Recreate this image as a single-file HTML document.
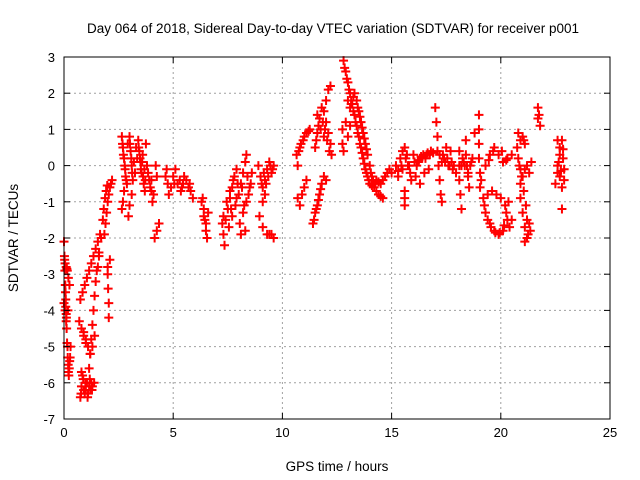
<!DOCTYPE html>
<html><head><meta charset="utf-8"><style>
body{margin:0;background:#fff}
svg{display:block;font-family:"Liberation Sans",sans-serif}
</style></head><body>
<svg id="chart" width="640" height="480">
<text x="333" y="33" text-anchor="middle" font-size="13.5">Day 064 of 2018, Sidereal Day-to-day VTEC variation (SDTVAR) for receiver p001</text>
<text transform="translate(18,238) rotate(-90)" text-anchor="middle" font-size="13.5">SDTVAR / TECUs</text>
<text x="337" y="471" text-anchor="middle" font-size="13.5">GPS time / hours</text>
<g id="grid"></g><g id="marks"></g><g id="axes"></g>
</svg>
<script>
const xTicks=[0,5,10,15,20,25];
const yTicks=[3,2,1,0,-1,-2,-3,-4,-5,-6,-7];
const T=[0.00,0.02,0.04,0.06,0.08,0.10,0.12,0.14,0.17,0.20,0.24,0.28,0.05,0.10,0.15,0.20,0.25,0.00,0.05,0.10,0.18,0.22,0.30,
0.75,0.8,0.85,0.9,0.95,1.0,1.1,1.2,1.3,0.8,
0.7,0.8,0.9,1.0,1.1,1.2,1.3,1.4,
0.75,0.85,0.95,1.05,1.15,1.25,1.35,1.45,1.55,1.65,
1.15,1.2,1.25,1.3,1.35,1.4,1.45,1.55,1.6,
2.0,2.02,2.05,2.05,2.0,2.1,
1.85,1.9,1.95,2.0,2.05,2.1,2.15,2.2,
2.65,2.7,2.75,2.8,2.85,2.75,2.7,2.65,3.0,3.05,3.1,3.15,3.1,3.0,2.95,3.4,3.45,3.5,3.55,3.65,3.7,3.6,3.8,3.9,4.0,4.05,4.1,3.75,4.2,4.25,
4.15,4.25,4.35,
4.7,4.75,4.8,5.0,5.2,5.4,5.6,5.8,5.9,5.1,5.5,
6.35,6.4,6.45,6.5,6.55,6.3,6.6,
7.25,7.3,7.35,7.4,7.5,7.6,7.7,7.8,7.9,7.55,7.7,7.85,8.0,8.1,8.2,8.3,8.35,8.05,8.2,8.35,8.45,8.55,8.6,8.1,8.3,
8.9,9.0,9.1,9.2,9.3,9.4,9.5,9.1,8.95,9.1,9.3,9.5,9.6,9.6,9.2,
10.65,10.8,10.95,11.1,11.25,10.7,10.8,10.9,11.0,11.1,10.7,
11.5,11.6,11.7,11.8,11.9,12.0,12.1,12.2,12.25,11.6,11.75,11.9,12.0,12.1,12.2,11.4,11.5,11.6,11.7,11.8,11.9,12.0,
12.75,12.75,12.8,
12.8,12.9,13.0,13.1,13.2,13.3,13.4,13.5,13.6,13.7,13.8,13.9,14.0,14.2,14.4,14.6,
13.0,13.1,13.3,13.4,13.5,13.6,13.7,13.8,13.9,14.0,14.1,14.3,14.5,14.7,14.9,15.0,
12.9,13.0,13.1,
15.6,15.6,15.6,
15.2,15.3,15.4,15.5,15.6,15.7,15.8,15.9,15.5,
16.0,16.2,16.4,16.6,16.8,16.1,16.3,16.5,16.7,
17.0,17.05,17.1,17.1,17.15,17.2,17.25,17.3,17.2,17.4,17.6,17.8,17.5,17.7,
18.1,18.1,18.1,18.15,18.2,18.4,18.45,18.5,18.55,18.3,18.6,18.7,18.4,
19.0,19.0,19.0,19.0,19.05,19.05,18.8,
19.2,19.3,19.5,19.7,19.9,20.1,20.3,20.2,20.0,19.8,19.6,19.4,20.4,20.5,
19.3,19.5,19.7,19.9,20.1,20.3,20.5,
20.75,20.8,20.9,20.9,20.9,21.0,21.1,21.2,21.1,21.3,21.0,21.2,21.3,21.4,20.8,20.9,21.0,21.1,
21.7,21.7,21.8,21.75,
22.6,22.7,22.8,22.7,22.8,22.85,22.9,22.9,22.6,22.8,22.5,22.6];
const V=[-2.1,-2.5,-2.9,-3.3,-3.7,-4.1,-4.5,-4.9,-5.3,-5.7,-5.6,-5.3,-2.7,-2.8,-2.9,-3.1,-3.3,-3.8,-4.0,-4.3,-4.0,-5.8,-5.0,
-6.4,-6.1,-5.8,-6.2,-6.3,-6.2,-6.3,-6.2,-6.1,-5.7,
-4.3,-4.5,-4.7,-4.8,-5.0,-5.2,-5.0,-4.7,
-3.7,-3.5,-3.3,-3.1,-2.9,-2.7,-2.5,-2.3,-2.1,-1.9,
-5.6,-5.2,-4.8,-4.4,-4.0,-3.6,-3.2,-2.8,-2.5,
-3.0,-3.4,-3.8,-4.2,-2.8,-2.6,
-1.9,-1.6,-1.3,-1.0,-0.8,-0.6,-0.5,-0.4,
0.8,0.5,0.2,-0.1,-0.4,-0.7,-1.0,-1.2,0.8,0.4,0.0,-0.4,-0.8,-1.1,-1.4,0.7,0.4,0.1,-0.2,-0.5,-0.7,0.3,0.0,-0.4,-0.7,-1.0,-0.8,0.6,0.0,-0.3,
-2.0,-1.8,-1.6,
-0.1,-0.5,-0.8,-0.3,-0.5,-0.6,-0.4,-0.7,-0.9,-0.1,-0.3,
-0.9,-1.2,-1.5,-1.8,-2.0,-1.0,-1.3,
-1.6,-1.9,-2.2,-1.5,-1.2,-0.9,-0.6,-0.3,-0.1,-1.7,-1.4,-1.1,-0.8,-0.5,-0.2,0.1,0.3,-1.6,-1.3,-1.0,-0.8,-0.5,-0.2,-1.9,-1.8,
0.0,-0.3,-0.6,-0.4,-0.1,0.1,-0.2,-1.0,-1.4,-1.7,-1.9,-1.9,-2.0,0.0,-0.8,
0.3,0.5,0.7,0.9,1.0,-0.9,-1.1,-0.8,-0.6,-0.4,0.0,
0.5,0.9,1.3,1.6,1.5,1.2,0.9,0.6,0.3,1.4,1.0,0.8,1.8,2.1,2.2,-1.6,-1.3,-1.1,-0.8,-0.5,-0.3,-0.4,
1.0,0.6,0.4,
2.9,2.6,2.3,2.0,1.7,1.4,1.1,0.8,0.5,0.2,-0.1,-0.3,-0.5,-0.6,-0.8,-0.9,
1.8,1.6,2.0,1.8,1.5,1.2,0.9,0.6,0.3,0.0,-0.3,-0.4,-0.5,-0.3,-0.1,-0.2,
1.2,0.8,1.1,
-0.7,-0.9,-1.1,
0.0,-0.3,0.2,-0.1,0.5,0.3,0.0,-0.4,0.4,
0.3,0.1,0.2,0.3,0.4,-0.3,-0.5,-0.2,-0.1,
1.6,1.2,0.8,0.4,0.0,-0.4,-0.8,-1.0,0.3,0.2,0.0,-0.1,0.5,0.4,
0.4,0.0,-0.4,-0.8,-1.2,0.3,0.0,-0.3,-0.6,0.1,0.0,0.2,0.7,
1.4,1.0,0.6,0.2,-0.2,-0.6,0.9,
-0.9,-1.3,-1.6,-1.8,-1.9,-1.8,-1.5,-1.1,-0.9,-0.8,-0.7,-0.8,-1.7,-1.5,
0.0,0.3,0.5,0.3,0.1,0.2,0.3,
0.5,0.2,-0.1,-0.5,-0.9,-1.3,-1.7,-2.0,-2.1,-1.6,-0.3,0.0,-0.2,0.1,0.9,0.7,0.8,0.6,
1.6,1.3,1.1,1.4,
0.0,-0.3,-0.6,0.3,0.7,0.2,-0.1,-0.4,0.7,-1.2,-0.5,-0.2];
const T2=[0.03,0.07,0.11,0.16,0.19,0.13,0.08,0.26,0.92,1.05,1.15,1.25,0.78,0.88,0.98,1.08,1.18,1.28,1.38,0.9,1.0,1.5,1.6,1.7,1.78,1.82,1.88,1.93,1.98,
2.68,2.72,2.78,2.82,2.88,2.92,3.02,3.08,3.12,3.2,3.25,3.3,3.35,3.42,3.48,3.52,3.58,3.62,3.68,3.72,3.85,3.95,4.0,
4.65,4.9,5.05,5.3,5.35,5.45,5.7,5.75,6.4,6.5,7.3,7.45,7.6,7.65,7.75,7.9,7.95,8.15,8.25,8.4,8.5,9.05,9.15,9.25,9.35,9.45,9.55,9.4,
10.75,10.85,11.0,11.2,11.55,11.65,11.85,11.95,12.05,12.15,11.45,11.55,11.65,11.75,
12.85,12.95,13.05,13.15,13.25,13.35,13.45,13.55,13.65,13.75,13.85,13.95,14.1,14.3,14.5,14.05,14.15,14.25,14.4,14.6,14.8,
13.15,13.25,13.45,13.55,13.65,13.75,13.85,
15.3,15.45,15.65,15.75,15.85,16.05,16.15,16.25,16.35,16.45,16.55,16.65,16.75,16.9,17.3,17.35,17.45,17.55,17.65,17.75,17.85,17.95,
18.2,18.25,18.35,18.5,18.65,19.1,19.25,19.4,19.55,19.75,19.95,20.15,20.25,20.35,19.45,19.65,20.05,20.25,
20.85,20.95,21.05,21.15,21.2,21.25,21.35,21.1,21.05,22.65,22.75,22.85,22.7];
const V2=[-2.6,-3.5,-4.2,-5.0,-5.5,-2.85,-3.9,-5.4,-6.2,-6.0,-6.1,-6.0,-6.3,-5.9,-6.0,-6.4,-5.9,-6.2,-6.0,-4.6,-4.9,-2.9,-2.4,-2.0,-1.5,-1.2,-0.9,-0.7,-0.55,
0.6,0.3,0.0,-0.3,-0.5,0.6,0.6,0.2,-0.2,0.1,-0.2,0.5,0.2,0.5,0.2,-0.1,0.1,-0.3,-0.1,-0.4,-0.2,-0.6,-0.4,
-0.3,-0.6,-0.5,-0.4,-0.7,-0.5,-0.6,-0.5,-1.4,-1.6,-1.4,-1.0,-0.7,-1.2,-0.4,-0.9,-0.5,-0.6,-1.1,-0.3,-0.6,-0.5,-0.2,-0.5,-0.3,0.0,-0.1,-1.9,
0.4,0.6,0.8,0.95,0.7,1.1,1.2,1.0,0.7,0.4,-1.5,-1.2,-0.95,-0.65,
2.7,2.4,2.1,1.8,1.5,1.2,0.9,0.6,0.35,0.05,-0.2,-0.4,-0.55,-0.7,-0.85,-0.2,-0.4,-0.5,-0.45,-0.4,-0.2,
1.7,1.9,1.6,1.35,1.05,0.75,0.45,
-0.15,0.0,0.2,0.0,-0.2,0.1,0.0,0.15,0.25,0.3,0.2,0.35,0.3,0.35,0.1,0.3,0.1,0.2,0.0,0.1,0.0,-0.2,
0.0,0.2,0.0,-0.2,0.1,-0.4,-1.1,-1.5,-1.7,-1.85,-1.85,-1.65,-1.3,-1.0,0.15,0.4,0.4,0.15,
0.0,-0.3,-0.7,-1.1,-1.5,-1.9,-1.8,-0.1,0.7,0.1,-0.15,0.45,0.5];
const NS='http://www.w3.org/2000/svg';
const L=64,R=610,TOP=57,B=419;
const xs=t=>L+(t-0)/25*(R-L);
const ys=v=>TOP+(3-v)/10*(B-TOP);
function mk(tag,attrs,parent){const e=document.createElementNS(NS,tag);for(const k in attrs)e.setAttribute(k,attrs[k]);parent.appendChild(e);return e;}
const grid=document.getElementById('grid'),axes=document.getElementById('axes'),marks=document.getElementById('marks');
xTicks.forEach(t=>{
  const x=xs(t);
  if(t>0&&t<25){const g=mk('line',{x1:x,x2:x,y1:TOP,y2:B,stroke:'#a0a0a0','stroke-dasharray':'2,3'},grid);
  
  }
  mk('line',{x1:x,x2:x,y1:B,y2:B-6,stroke:'#000'},axes);
  mk('line',{x1:x,x2:x,y1:TOP,y2:TOP+6,stroke:'#000'},axes);
  const tx=mk('text',{x:x,y:B+18,'text-anchor':'middle','font-size':'13'},axes);
  tx.textContent=t;
  
  
});
yTicks.forEach(v=>{
  const y=ys(v);
  if(v<3&&v>-7){const g=mk('line',{x1:L,x2:R,y1:y,y2:y,stroke:'#a0a0a0','stroke-dasharray':'2,3'},grid);
  
  }
  mk('line',{x1:L,x2:L+6,y1:y,y2:y,stroke:'#000'},axes);
  mk('line',{x1:R,x2:R-6,y1:y,y2:y,stroke:'#000'},axes);
  const tx=mk('text',{x:L-9,y:y+5,'text-anchor':'end','font-size':'13'},axes);
  tx.textContent=v;
  
  
});
const frame=mk('rect',{x:L,y:TOP,width:R-L,height:B-TOP,fill:'none',stroke:'#000'},axes);


function drawPoints(ts,vs){
  for(let i=0;i<ts.length;i++){
    const x=xs(ts[i]),y=ys(vs[i]);
    const p=mk('path',{d:`M${x-4.5},${y}h9M${x},${y-4.5}v9`,stroke:'#ff0000','stroke-width':'2'},marks);
    
    
  }
}
drawPoints(T,V);
drawPoints(T2,V2);
</script>
</body></html>
